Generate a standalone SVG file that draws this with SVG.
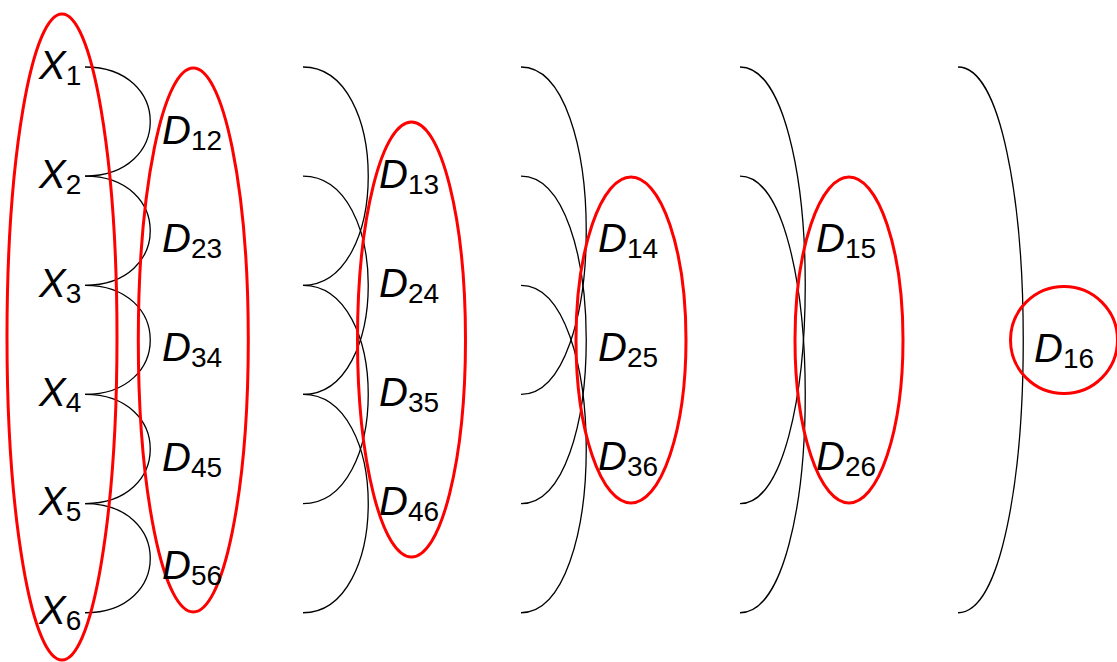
<svg xmlns="http://www.w3.org/2000/svg" width="1117" height="662" viewBox="0 0 1117 662">
<style>
.arc{fill:none;stroke:#000;stroke-width:1.3}
.set{fill:none;stroke:#ff0000;stroke-width:3}
.lbl{font-family:"Liberation Sans",Arial,sans-serif;font-size:40px;fill:#000}
.m{font-style:italic}
.s{font-size:28px}
</style>
<rect width="1117" height="662" fill="#fff"/>
<g id="connectors">
<path class="arc" d="M85,67 C172,67 172,176.15 85,176.15"/>
<path class="arc" d="M85,176.15 C172,176.15 172,285.3 85,285.3"/>
<path class="arc" d="M85,285.3 C172,285.3 172,394.45 85,394.45"/>
<path class="arc" d="M85,394.45 C172,394.45 172,503.6 85,503.6"/>
<path class="arc" d="M85,503.6 C172,503.6 172,612.75 85,612.75"/>
<path class="arc" d="M303,67 C390,67 390,285.3 303,285.3"/>
<path class="arc" d="M303,176.15 C390,176.15 390,394.45 303,394.45"/>
<path class="arc" d="M303,285.3 C390,285.3 390,503.6 303,503.6"/>
<path class="arc" d="M303,394.45 C390,394.45 390,612.75 303,612.75"/>
<path class="arc" d="M521,67 C608,67 608,394.45 521,394.45"/>
<path class="arc" d="M521,176.15 C608,176.15 608,503.6 521,503.6"/>
<path class="arc" d="M521,285.3 C608,285.3 608,612.75 521,612.75"/>
<path class="arc" d="M740,67 C827,67 827,503.6 740,503.6"/>
<path class="arc" d="M740,176.15 C827,176.15 827,612.75 740,612.75"/>
<path class="arc" d="M958,67 C1045,67 1045,612.75 958,612.75"/>
</g>
<g id="set-X"><ellipse class="set" cx="62" cy="337" rx="55" ry="323"/></g>
<g id="set-D1"><ellipse class="set" cx="193.3" cy="340" rx="55" ry="272"/></g>
<g id="set-D2"><ellipse class="set" cx="411.5" cy="339.5" rx="54" ry="217.5"/></g>
<g id="set-D3"><ellipse class="set" cx="631" cy="340" rx="55" ry="163"/></g>
<g id="set-D4"><ellipse class="set" cx="849" cy="340" rx="54" ry="163"/></g>
<g id="set-D5"><circle class="set" cx="1064" cy="340" r="53.5"/></g>
<g id="X1"><text class="lbl" x="39" y="79"><tspan class="m">X</tspan><tspan class="s" dy="6">1</tspan></text></g>
<g id="X2"><text class="lbl" x="39" y="188"><tspan class="m">X</tspan><tspan class="s" dy="6">2</tspan></text></g>
<g id="X3"><text class="lbl" x="39" y="297"><tspan class="m">X</tspan><tspan class="s" dy="6">3</tspan></text></g>
<g id="X4"><text class="lbl" x="39" y="406"><tspan class="m">X</tspan><tspan class="s" dy="6">4</tspan></text></g>
<g id="X5"><text class="lbl" x="39" y="515"><tspan class="m">X</tspan><tspan class="s" dy="6">5</tspan></text></g>
<g id="X6"><text class="lbl" x="39" y="624"><tspan class="m">X</tspan><tspan class="s" dy="6">6</tspan></text></g>
<g id="D12"><text class="lbl" x="162" y="144"><tspan class="m">D</tspan><tspan class="s" dy="6">12</tspan></text></g>
<g id="D23"><text class="lbl" x="162" y="252"><tspan class="m">D</tspan><tspan class="s" dy="6">23</tspan></text></g>
<g id="D34"><text class="lbl" x="162" y="361"><tspan class="m">D</tspan><tspan class="s" dy="6">34</tspan></text></g>
<g id="D45"><text class="lbl" x="162" y="471"><tspan class="m">D</tspan><tspan class="s" dy="6">45</tspan></text></g>
<g id="D56"><text class="lbl" x="162" y="579"><tspan class="m">D</tspan><tspan class="s" dy="6">56</tspan></text></g>
<g id="D13"><text class="lbl" x="379" y="188"><tspan class="m">D</tspan><tspan class="s" dy="6">13</tspan></text></g>
<g id="D24"><text class="lbl" x="379" y="297"><tspan class="m">D</tspan><tspan class="s" dy="6">24</tspan></text></g>
<g id="D35"><text class="lbl" x="379" y="406"><tspan class="m">D</tspan><tspan class="s" dy="6">35</tspan></text></g>
<g id="D46"><text class="lbl" x="379" y="515"><tspan class="m">D</tspan><tspan class="s" dy="6">46</tspan></text></g>
<g id="D14"><text class="lbl" x="598" y="252"><tspan class="m">D</tspan><tspan class="s" dy="6">14</tspan></text></g>
<g id="D25"><text class="lbl" x="598" y="361"><tspan class="m">D</tspan><tspan class="s" dy="6">25</tspan></text></g>
<g id="D36"><text class="lbl" x="598" y="470"><tspan class="m">D</tspan><tspan class="s" dy="6">36</tspan></text></g>
<g id="D15"><text class="lbl" x="816" y="252"><tspan class="m">D</tspan><tspan class="s" dy="6">15</tspan></text></g>
<g id="D26"><text class="lbl" x="816" y="470"><tspan class="m">D</tspan><tspan class="s" dy="6">26</tspan></text></g>
<g id="D16"><text class="lbl" x="1034" y="362"><tspan class="m">D</tspan><tspan class="s" dy="6">16</tspan></text></g>
</svg>
